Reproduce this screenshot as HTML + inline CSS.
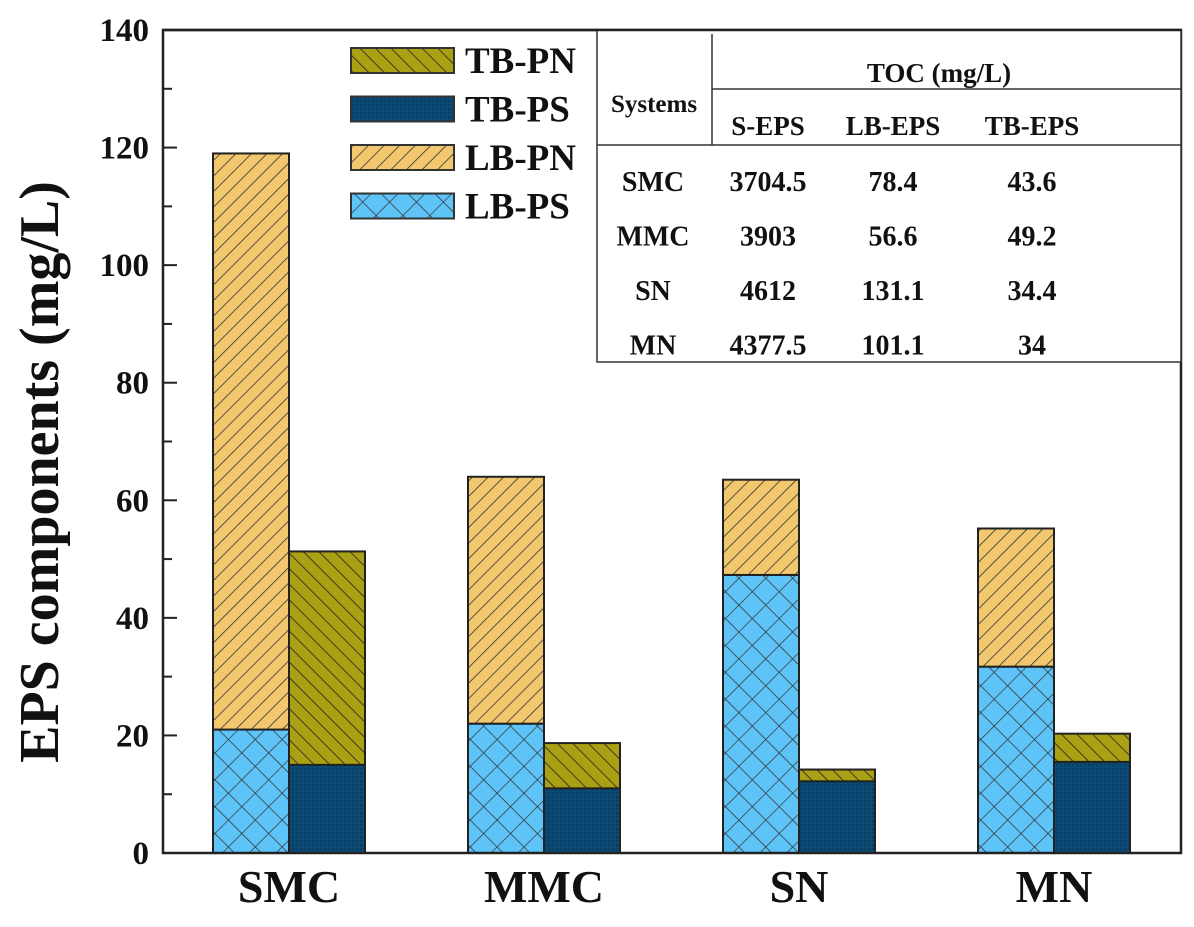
<!DOCTYPE html>
<html><head><meta charset="utf-8"><style>
body{margin:0;background:#fff;}
svg text{font-family:"Liberation Serif",serif;font-weight:bold;fill:#111;}
</style></head><body>
<svg width="1194" height="922" xmlns="http://www.w3.org/2000/svg">
<defs>
<pattern id="pLBPN" width="11" height="11" patternUnits="userSpaceOnUse" patternTransform="rotate(45)"><rect width="11" height="11" fill="#f2c86e"/><line x1="0" y1="0" x2="0" y2="11" stroke="#333" stroke-width="1.6"/></pattern>
<pattern id="pTBPN" width="11" height="11" patternUnits="userSpaceOnUse" patternTransform="rotate(-45)"><rect width="11" height="11" fill="#a9a013"/><line x1="0" y1="0" x2="0" y2="11" stroke="#222" stroke-width="1.6"/></pattern>
<pattern id="pLBPS" width="19" height="19" patternUnits="userSpaceOnUse" patternTransform="rotate(45)"><rect width="19" height="19" fill="#5ec4f7"/><line x1="0" y1="0" x2="0" y2="19" stroke="#333" stroke-width="1.4"/><line x1="0" y1="0" x2="19" y2="0" stroke="#333" stroke-width="1.4"/></pattern>
<pattern id="pTBPS" width="4" height="4" patternUnits="userSpaceOnUse"><rect width="4" height="4" fill="#0b4a74"/><rect width="2" height="2" fill="#093d60"/></pattern>
</defs>
<g id="plot"></g>
</svg>
<script>
const categories=["SMC","MMC","SN","MN"];
const lbPS=[21,22,47.3,31.7];
const lbPN=[98,42,16.2,23.5];
const tbPS=[15,11,12.2,15.5];
const tbPN=[36.3,7.7,2,4.8];
const yTicks=[0,20,40,60,80,100,120,140];
const tableHead=["S-EPS","LB-EPS","TB-EPS"];
const tableRows=[["SMC","3704.5","78.4","43.6"],["MMC","3903","56.6","49.2"],["SN","4612","131.1","34.4"],["MN","4377.5","101.1","34"]];
const NS="http://www.w3.org/2000/svg";
const g=document.getElementById('plot');
const X0=163,X1=1181,Y0=853,Y1=30;
const y=v=>Y0-(v/140)*(Y0-Y1);
const cx=i=>289+i*255;
const BW=76;
function el(t,a,txt){const e=document.createElementNS(NS,t);for(const k in a)e.setAttribute(k,a[k]);if(txt!==undefined)e.textContent=txt;g.appendChild(e);return e;}
function seg(x,v0,v1,fill,name){const r=el('rect',{x:x,y:y(v1),width:BW,height:y(v0)-y(v1),fill:fill,stroke:'#222','stroke-width':2});

}
categories.forEach((c,i)=>{
 seg(cx(i)-BW,0,lbPS[i],'url(#pLBPS)','bar-lb-ps-'+c.toLowerCase());
 seg(cx(i)-BW,lbPS[i],lbPS[i]+lbPN[i],'url(#pLBPN)','bar-lb-pn-'+c.toLowerCase());
 seg(cx(i),0,tbPS[i],'url(#pTBPS)','bar-tb-ps-'+c.toLowerCase());
 seg(cx(i),tbPS[i],tbPS[i]+tbPN[i],'url(#pTBPN)','bar-tb-pn-'+c.toLowerCase());
 const t=el('text',{x:cx(i),y:902,'text-anchor':'middle','font-size':46},c);
 
 
});
const fr=el('rect',{x:X0,y:Y1,width:X1-X0,height:Y0-Y1,fill:'none',stroke:'#222','stroke-width':2.5});


for(let v=0;v<=140;v+=10){const major=v%20===0;el('line',{x1:X0,x2:X0+(major?14:9),y1:y(v),y2:y(v),stroke:'#222','stroke-width':2});}
yTicks.forEach(v=>{const t=el('text',{x:X0-14,y:y(v)+11,'text-anchor':'end','font-size':33},String(v));

});
const yt=el('text',{x:0,y:0,'text-anchor':'middle','font-size':56,transform:'translate(58,472) rotate(-90)'},'EPS components (mg/L)');


const leg=[["TB-PN","url(#pTBPN)"],["TB-PS","url(#pTBPS)"],["LB-PN","url(#pLBPN)"],["LB-PS","url(#pLBPS)"]];
leg.forEach((l,k)=>{const yy=48+k*48.5;
 const r=el('rect',{x:351,y:yy,width:103,height:25,fill:l[1],stroke:'#333','stroke-width':2});
 
 
 const t=el('text',{x:465,y:yy+25,'font-size':37},l[0]);
 
 });
const tb=el('rect',{x:597,y:30,width:584,height:332,fill:'#fff',stroke:'#333','stroke-width':1.5});


el('line',{x1:712,x2:712,y1:34,y2:145,stroke:'#333','stroke-width':1.5});
el('line',{x1:712,x2:1181,y1:89,y2:89,stroke:'#333','stroke-width':1.5});
el('line',{x1:597,x2:1181,y1:145,y2:145,stroke:'#333','stroke-width':1.5});
el('line',{x1:X0,x2:X1,y1:Y1,y2:Y1,stroke:'#222','stroke-width':2.5});
let t=el('text',{x:654,y:112,'text-anchor':'middle','font-size':25},'Systems');


t=el('text',{x:939,y:82,'text-anchor':'middle','font-size':27},'TOC (mg/L)');


const hx=[768,893,1032];
tableHead.forEach((h,k)=>{const e=el('text',{x:hx[k],y:135,'text-anchor':'middle','font-size':27},h);

});
const cX=[653,768,893,1032];
tableRows.forEach((row,r)=>{row.forEach((c,k)=>{const e=el('text',{x:cX[k],y:191+r*54.5,'text-anchor':'middle','font-size':28},c);

});});
</script>
</body></html>
